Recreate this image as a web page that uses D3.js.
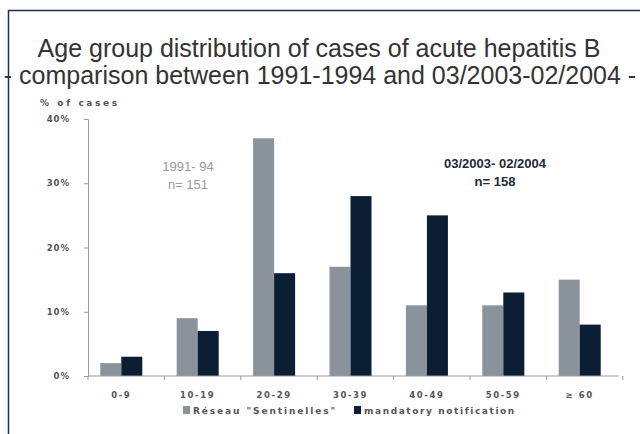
<!DOCTYPE html>
<html>
<head>
<meta charset="utf-8">
<script src="https://cdn.jsdelivr.net/npm/d3@7"></script>
<style>
  body { margin: 0; background: #fff; }
  svg { display: block; font-family: "Liberation Sans", Arial, sans-serif; }
</style>
</head>
<body>
<div id="chart"></div>
<script>
const categories = ["0-9", "10-19", "20-29", "30-39", "40-49", "50-59", "\u2265 60"];
const seriesNames = ["R\u00e9seau \"Sentinelles\"", "mandatory notification"];
const sentinelles = [2, 9, 37, 17, 11, 11, 15];
const mandatory = [3, 7, 16, 28, 25, 13, 8];
const yTicks = [0, 10, 20, 30, 40];

const W = 640, H = 434;
const margin = {top: 119, right: 21, bottom: 58, left: 88};
const width = W - margin.left - margin.right;
const height = H - margin.top - margin.bottom;
const smallFont = "DejaVu Sans, Verdana, sans-serif";

const svg = d3.select("#chart").append("svg")
    .attr("width", W)
    .attr("height", H);

// frame
svg.append("path")
    .attr("d", "M8.5," + H + "V10.5H" + W)
    .attr("fill", "none")
    .attr("stroke", "#1c3350")
    .attr("stroke-width", 1.5);

// title
const title = svg.append("text")
    .attr("text-anchor", "middle")
    .attr("fill", "#333")
    .attr("font-size", 25);
title.append("tspan").attr("x", 319).attr("y", 57)
    .text("Age group distribution of cases of acute hepatitis B");
title.append("tspan").attr("x", 320).attr("y", 84)
    .text("- comparison between 1991-1994 and 03/2003-02/2004 -");

const g = svg.append("g")
    .attr("transform", "translate(" + margin.left + "," + margin.top + ")");

const x = d3.scaleBand()
    .domain(categories)
    .range([0, width])
    .paddingInner(0.45)
    .paddingOuter(0.2);

const x1 = d3.scaleBand()
    .domain(seriesNames)
    .range([0, x.bandwidth()]);

const y = d3.scaleLinear()
    .domain([0, 40])
    .range([height, 0]);

const color = d3.scaleOrdinal()
    .domain(seriesNames)
    .range(["#8a929c", "#0c1e33"]);

const rows = categories.map((c, i) => ({cat: c, values: [sentinelles[i], mandatory[i]]}));

g.append("g")
    .selectAll("g")
    .data(rows)
    .enter().append("g")
    .attr("transform", d => "translate(" + (x(d.cat) - 3) + ",0)")
    .selectAll("rect")
    .data(d => d.values.map((v, j) => ({key: seriesNames[j], v: v})))
    .enter().append("rect")
    .attr("x", d => x1(d.key))
    .attr("y", d => y(d.v))
    .attr("width", x1.bandwidth())
    .attr("height", d => y(0) - y(d.v))
    .attr("fill", d => color(d.key));

// y axis
g.append("g")
    .attr("class", "y axis")
    .call(d3.axisLeft(y).tickValues(yTicks).tickFormat(d => d + "%").tickSize(4).tickPadding(14));

// x axis with ticks at band boundaries
const xAxis = g.append("g")
    .attr("class", "x axis")
    .attr("transform", "translate(0," + height + ")");
xAxis.append("line")
    .attr("x1", 0).attr("x2", width)
    .attr("stroke", "#999");
const step = x.step();
xAxis.selectAll(".bt")
    .data(d3.range(categories.length + 1))
    .enter().append("line")
    .attr("x1", i => i * step).attr("x2", i => i * step)
    .attr("y1", 0).attr("y2", 4)
    .attr("stroke", "#999");
xAxis.selectAll(".cl")
    .data(categories)
    .enter().append("text")
    .attr("x", d => x(d) + x.bandwidth() / 2 - 3)
    .attr("y", 22)
    .attr("text-anchor", "middle")
    .attr("font-family", smallFont)
    .attr("font-size", 8.5)
    .attr("font-weight", "bold")
    .attr("letter-spacing", 1.6)
    .attr("fill", "#555")
    .text(d => d);

g.selectAll(".y.axis .domain, .y.axis line").attr("stroke", "#999");
g.selectAll(".y.axis text")
    .attr("font-size", 8.5)
    .attr("font-weight", "bold")
    .attr("letter-spacing", 1)
    .attr("fill", "#555")
    .attr("font-family", smallFont);

svg.append("text")
    .attr("x", 40).attr("y", 106)
    .attr("font-family", smallFont)
    .attr("font-size", 9)
    .attr("font-weight", "bold")
    .attr("letter-spacing", 2.6)
    .attr("fill", "#555")
    .text("%  of cases");

// annotations
const a1 = svg.append("text").attr("text-anchor", "middle").attr("fill", "#9a9a9a").attr("font-size", 13);
a1.append("tspan").attr("x", 188).attr("y", 171).text("1991- 94");
a1.append("tspan").attr("x", 188).attr("y", 189).text("n= 151");

const a2 = svg.append("text").attr("text-anchor", "middle").attr("fill", "#1e2a38")
    .attr("font-size", 13).attr("font-weight", "bold");
a2.append("tspan").attr("x", 495).attr("y", 168).text("03/2003- 02/2004");
a2.append("tspan").attr("x", 495).attr("y", 186).text("n= 158");

// legend
const legend = svg.append("g").attr("transform", "translate(183,406)");
const lx = [0, 171];
seriesNames.forEach((s, i) => {
    const lg = legend.append("g").attr("transform", "translate(" + lx[i] + ",0)");
    lg.append("rect").attr("width", 7).attr("height", 8).attr("fill", color(s));
    lg.append("text").attr("x", 10).attr("y", 8)
        .attr("font-family", smallFont)
        .attr("font-size", 9)
        .attr("font-weight", "bold")
        .attr("letter-spacing", i === 0 ? 1.9 : 1.6)
        .attr("fill", "#555")
        .text(s);
});
</script>
</body>
</html>
